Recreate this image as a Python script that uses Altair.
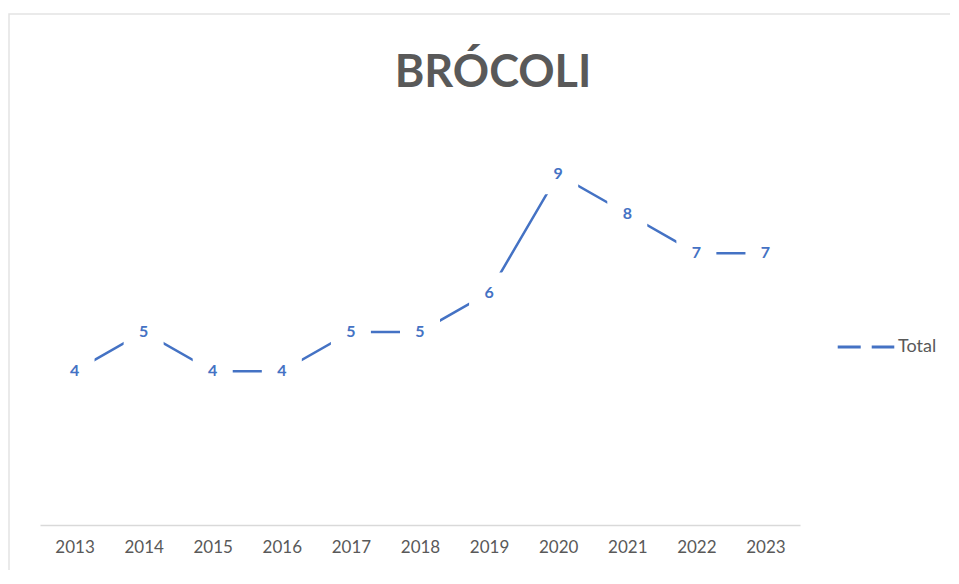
import altair as alt
import pandas as pd

years = ["2013", "2014", "2015", "2016", "2017", "2018", "2019", "2020", "2021", "2022", "2023"]
values = [4, 5, 4, 4, 5, 5, 6, 9, 8, 7, 7]
series = ["Total"] * len(years)

df = pd.DataFrame({"year": years, "value": values, "series": series})

BLUE = "#4472C4"
GRAY = "#595959"
FONT = "Lato"

x = alt.X("year:O", scale=alt.Scale(type="point", padding=0.5),
          axis=alt.Axis(title=None, labelAngle=0, ticks=False, domainColor="#D9D9D9",
                        domainWidth=1.5, labelColor=GRAY, labelFontSize=17, labelFont=FONT,
                        labelPadding=14, grid=False))
y = alt.Y("value:Q", scale=alt.Scale(domain=[0.1, 10.1], nice=False, zero=False), axis=None)

base = alt.Chart(df).encode(x=x, y=y)

line = base.mark_line(strokeWidth=2.5).encode(
    color=alt.Color("series:N", scale=alt.Scale(range=[BLUE]),
                    legend=alt.Legend(title=None, orient="none", legendX=796, legendY=186,
                                      symbolType="stroke", symbolDash=[23, 11],
                                      symbolSize=3200, symbolStrokeWidth=3,
                                      labelFont=FONT, labelFontSize=18, labelColor=GRAY,
                                      labelOffset=2))
)

mask = base.mark_point(shape="square", filled=True, size=1600, color="white", opacity=1)

labels = base.mark_text(font=FONT, fontWeight="bold", fontSize=16, color=BLUE,
                        baseline="middle", align="center").encode(text="value:Q")

title = alt.Chart(pd.DataFrame({"t": ["BRÓCOLI"]})).mark_text(
    font=FONT, fontWeight="bold", fontSize=45, color=GRAY, align="center", baseline="middle"
).encode(text="t:N", x=alt.value(453), y=alt.value(-58))

frame = alt.Chart(pd.DataFrame({"f": [0]})).mark_rect(
    fill=None, stroke="#E3E3E3", strokeWidth=1.5
).encode(x=alt.value(-31), x2=alt.value(980), y=alt.value(-117), y2=alt.value(600))

chart = alt.layer(frame, line, mask, labels, title).properties(
    width=760, height=394,
    autosize=alt.AutoSizeParams(type="none"),
    padding={"left": 32, "top": 123, "right": 150, "bottom": 45},
    background="white",
).configure_view(stroke=None)

chart.save("out.html", embed_options={"renderer": "svg", "actions": False})
